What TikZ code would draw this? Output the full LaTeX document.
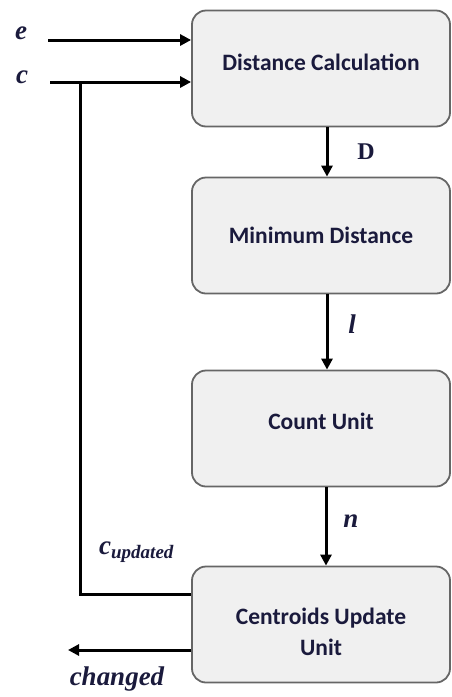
\documentclass[tikz,border=0pt]{standalone}
\usepackage{fontspec}
\setmainfont{Liberation Serif}
\newfontfamily\boxfont{Carlito}
\usetikzlibrary{arrows.meta}
\definecolor{ink}{HTML}{1A1A3C}
\definecolor{boxfill}{HTML}{F0F0F0}
\definecolor{boxline}{HTML}{666666}
\begin{document}
\begin{tikzpicture}[x=1pt,y=-1pt,
  unitbox/.style={draw=boxline, line width=1.8pt, fill=boxfill, rounded corners=14pt,
    minimum width=258pt, minimum height=116pt, inner sep=0pt},
  unittext/.style={inner sep=0pt, align=center, text=ink,
    font=\boxfont\bfseries\fontsize{23.5}{31}\selectfont},
  wire/.style={line width=3pt, draw=black},
  arr/.style={wire, -{Triangle[length=11pt,width=11pt]}},
  sig/.style={text=ink, font=\bfseries\itshape\fontsize{27}{29}\selectfont, inner sep=0pt}]
\useasboundingbox (0,0) rectangle (452,697);

% processing units
\node[unitbox] (dist) at (321,68.5) {};
\node[unitbox] (mind) at (321,235.5) {};
\node[unitbox] (cnt)  at (321,428.5) {};
\node[unitbox] (upd)  at (321,624.5) {};
\node[unittext] (distt) at (321,62)  {Distance Calculation};
\node[unittext] (mindt) at (321,235) {Minimum Distance};
\node[unittext] (cntt)  at (321,421) {Count Unit};
\node[unittext] (updt)  at (321,632) {Centroids Update\\Unit};

% inputs
\coordinate (ein) at (48,40);
\coordinate (cin) at (50,82);
\node[sig] (elab) at (21,33) {e};
\node[sig] (clab) at (22,77) {c};
\draw[arr] (ein) -- (ein -| dist.west);
\draw[arr] (cin) -- (cin -| dist.west);

% data path between units
\draw[arr] ([xshift=6pt]dist.south) -- ([xshift=6pt]mind.north);
\draw[arr] ([xshift=6pt]mind.south) -- ([xshift=6pt]cnt.north);
\draw[arr] ([xshift=5pt]cnt.south) -- ([xshift=5pt]upd.north);
\node[text=ink, font=\bfseries\fontsize{24}{26}\selectfont, inner sep=0pt] (dlab) at (366,152) {D};
\node[sig] (llab) at (352,324) {l};
\node[sig] (nlab) at (351,521) {n};

% feedback of updated centroids
\coordinate (fbtop) at (80,82);
\coordinate (fbbot) at (80,594);
\draw[wire, line join=miter] (upd.west |- fbbot) -- (fbbot) -- (fbtop);
\node[sig, anchor=west] (culab) at (99,552) {c\textsubscript{\fontsize{19}{20}\selectfont updated}};

% changed flag output
\coordinate (chg) at (68,650);
\draw[arr] (upd.west |- chg) -- (chg);
\node[sig] (chlab) at (117,679) {changed};
\end{tikzpicture}
\end{document}
